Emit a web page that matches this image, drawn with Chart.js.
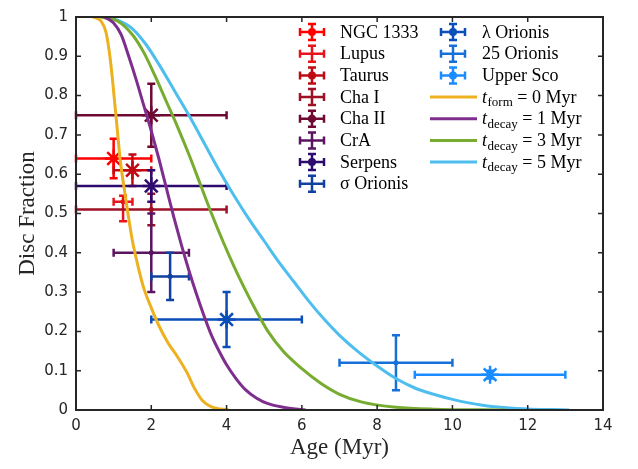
<!DOCTYPE html>
<html>
<head>
<meta charset="utf-8">
<script src="https://cdn.jsdelivr.net/npm/chart.js@4.4.1/dist/chart.umd.min.js"></script>
<style>
    html, body { margin: 0; padding: 0; background: #fff; }
    #wrap { width: 638px; height: 469px; }
</style>
</head>
<body>
<div id="wrap"><canvas id="c" width="638" height="469"></canvas></div>
<script>
// star forming regions (points with error bars)
const regions = ["NGC 1333", "Lupus", "Taurus", "Cha I", "Cha II", "CrA", "Serpens", "σ Orionis", "λ Orionis", "25 Orionis", "Upper Sco"];
const regionColors = ["#ff0000", "#e8141c", "#bf0a14", "#9e1024", "#6e0a32", "#5b1460", "#2d0a6e", "#1040a0", "#0a4eb8", "#1670d8", "#1a8cff"];
const regionStar = [true, false, true, false, true, false, true, false, true, false, true];
const age = [1, 1.25, 1.5, 2, 2, 2, 2, 2.5, 4, 8.5, 11];
const ageLo = [0, 1, 1, 0, 0, 1, 0, 2, 2, 7, 9];
const ageHi = [2, 1.5, 2, 4, 4, 3, 4, 3, 6, 10, 13];
const frac = [0.64, 0.53, 0.61, 0.51, 0.75, 0.40, 0.57, 0.34, 0.23, 0.12, 0.09];
const fracLo = [0.59, 0.48, 0.57, 0.47, 0.67, 0.30, 0.53, 0.28, 0.16, 0.05, 0.08];
const fracHi = [0.69, 0.545, 0.65, 0.55, 0.83, 0.50, 0.61, 0.40, 0.30, 0.19, 0.10];

// model curves
const formAge = [0.44, 0.66, 0.8, 0.9, 0.97, 1.04, 1.1, 1.17, 1.27, 1.38, 1.5, 1.65, 1.8, 2.0, 2.2, 2.45, 2.7, 2.95, 3.15, 3.35, 3.6, 4.05];
const formFrac = [1.0, 0.99, 0.96, 0.9, 0.84, 0.77, 0.71, 0.64, 0.57, 0.5, 0.43, 0.365, 0.31, 0.26, 0.215, 0.17, 0.135, 0.095, 0.055, 0.025, 0.008, 0];
const decay1Age = [0.75, 1.0, 1.2, 1.4, 1.6, 1.8, 2.0, 2.2, 2.4, 2.6, 2.8, 3.0, 3.2, 3.4, 3.6, 3.8, 4.0, 4.25, 4.5, 4.8, 5.1, 5.5, 6.1];
const decay1Frac = [1.0, 0.985, 0.955, 0.9, 0.84, 0.775, 0.71, 0.64, 0.565, 0.49, 0.42, 0.355, 0.295, 0.24, 0.19, 0.15, 0.115, 0.08, 0.052, 0.03, 0.016, 0.007, 0];
const decay3Age = [0.66, 1.1, 1.5, 1.8, 2.1, 2.4, 2.7, 3.0, 3.3, 3.6, 3.9, 4.2, 4.5, 4.8, 5.1, 5.5, 6.0, 6.5, 7.0, 7.6, 8.5, 9.5, 11.4];
const decay3Frac = [1.0, 0.99, 0.955, 0.91, 0.85, 0.785, 0.72, 0.65, 0.575, 0.5, 0.43, 0.365, 0.305, 0.25, 0.2, 0.15, 0.105, 0.068, 0.04, 0.02, 0.007, 0.002, 0];
const decay5Age = [0.8, 1.15, 1.5, 1.86, 2.2, 2.6, 3.0, 3.4, 3.8, 4.2, 4.6, 5.0, 5.4, 5.8, 6.2, 6.6, 7.0, 7.5, 8.0, 8.5, 9.0, 9.5, 10.0, 10.8, 11.7, 13.1];
const decay5Frac = [1.0, 0.99, 0.97, 0.93, 0.88, 0.815, 0.75, 0.68, 0.61, 0.545, 0.485, 0.43, 0.375, 0.325, 0.275, 0.23, 0.19, 0.148, 0.112, 0.08, 0.056, 0.04, 0.027, 0.012, 0.004, 0];

const curveSubs = ["form", "decay", "decay", "decay"];
const curveTimes = ["0 Myr", "1 Myr", "3 Myr", "5 Myr"];
const curveColors = ["#edb120", "#7e2f8e", "#77ac30", "#4dbeee"];
const curveAges = [formAge, decay1Age, decay3Age, decay5Age];
const curveFracs = [formFrac, decay1Frac, decay3Frac, decay5Frac];

const ageTicks = [0, 2, 4, 6, 8, 10, 12, 14];
const fracTicks = [0, 0.1, 0.2, 0.3, 0.4, 0.5, 0.6, 0.7, 0.8, 0.9, 1];

const axisColor = "#262626";
const serif = '"Liberation Serif", "Times New Roman", serif';

const datasets = [];
curveAges.forEach(function (xs, k) {
    datasets.push({
        type: "scatter",
        showLine: true,
        data: xs.map((a, i) => ({ x: a, y: curveFracs[k][i] })),
        borderColor: curveColors[k],
        borderWidth: 3,
        pointRadius: 0,
        cubicInterpolationMode: "monotone",
        order: 0
    });
});
regions.forEach(function (name, i) {
    datasets.push({
        type: "scatter",
        data: [{ x: age[i], y: frac[i] }],
        borderColor: regionColors[i],
        backgroundColor: regionColors[i],
        pointStyle: regionStar[i] ? "star" : "circle",
        pointRadius: regionStar[i] ? 9 : 2.2,
        pointBorderWidth: regionStar[i] ? 2.5 : 1,
        order: 1
    });
});

// error bars, drawn under the markers and curves
const errorBars = {
    id: "errorBars",
    beforeDatasetsDraw(chart) {
        const { ctx, scales: { x, y } } = chart;
        const cap = 4;
        ctx.save();
        ctx.lineWidth = 2.5;
        regions.forEach(function (name, i) {
            const px = x.getPixelForValue(age[i]);
            const py = y.getPixelForValue(frac[i]);
            const x0 = x.getPixelForValue(ageLo[i]), x1 = x.getPixelForValue(ageHi[i]);
            const y0 = y.getPixelForValue(fracLo[i]), y1 = y.getPixelForValue(fracHi[i]);
            ctx.strokeStyle = regionColors[i];
            ctx.beginPath();
            ctx.moveTo(x0, py); ctx.lineTo(x1, py);
            ctx.moveTo(px, y0); ctx.lineTo(px, y1);
            ctx.moveTo(x0, py - cap); ctx.lineTo(x0, py + cap);
            ctx.moveTo(x1, py - cap); ctx.lineTo(x1, py + cap);
            ctx.moveTo(px - cap, y0); ctx.lineTo(px + cap, y0);
            ctx.moveTo(px - cap, y1); ctx.lineTo(px + cap, y1);
            ctx.stroke();
        });
        ctx.restore();
    }
};

// box with inward ticks, then the legend
const frameAndLegend = {
    id: "frameAndLegend",
    afterDraw(chart) {
        const { ctx, chartArea: a, scales: { x, y } } = chart;
        ctx.save();
        ctx.strokeStyle = axisColor;
        ctx.lineWidth = 1.5;
        ctx.beginPath();
        ageTicks.forEach(function (t) {
            const px = x.getPixelForValue(t);
            ctx.moveTo(px, a.bottom); ctx.lineTo(px, a.bottom - 5);
            ctx.moveTo(px, a.top); ctx.lineTo(px, a.top + 5);
        });
        fracTicks.forEach(function (t) {
            const py = y.getPixelForValue(t);
            ctx.moveTo(a.left, py); ctx.lineTo(a.left + 5, py);
            ctx.moveTo(a.right, py); ctx.lineTo(a.right - 5, py);
        });
        ctx.stroke();
        ctx.lineWidth = 2;
        ctx.strokeRect(a.left, a.top, a.right - a.left, a.bottom - a.top);

        // legend
        const rowY = [32, 53.7, 75.4, 97, 118.7, 140.4, 162, 183.7];
        ctx.textBaseline = "middle";
        ctx.textAlign = "left";
        regions.forEach(function (name, i) {
            const col = i < 8 ? 0 : 1;
            const cy = rowY[col ? i - 8 : i];
            const cx = col ? 453 : 312;
            const hw = 12, hh = 8, c = 4;
            ctx.strokeStyle = regionColors[i];
            ctx.fillStyle = regionColors[i];
            ctx.lineWidth = 2.5;
            ctx.beginPath();
            ctx.moveTo(cx - hw, cy); ctx.lineTo(cx + hw, cy);
            ctx.moveTo(cx, cy - hh); ctx.lineTo(cx, cy + hh);
            ctx.moveTo(cx - hw, cy - c); ctx.lineTo(cx - hw, cy + c);
            ctx.moveTo(cx + hw, cy - c); ctx.lineTo(cx + hw, cy + c);
            ctx.moveTo(cx - c, cy - hh); ctx.lineTo(cx + c, cy - hh);
            ctx.moveTo(cx - c, cy + hh); ctx.lineTo(cx + c, cy + hh);
            ctx.stroke();
            ctx.beginPath();
            ctx.arc(cx, cy, regionStar[i] ? 4 : 1.5, 0, Math.PI * 2);
            ctx.fill();
            ctx.fillStyle = "#000";
            ctx.font = "18px " + serif;
            ctx.fillText(name, col ? 482 : 340, cy + 1);
        });
        curveSubs.forEach(function (sub, k) {
            const cy = rowY[3 + k];
            ctx.strokeStyle = curveColors[k];
            ctx.lineWidth = 3;
            ctx.beginPath();
            ctx.moveTo(430, cy); ctx.lineTo(477, cy);
            ctx.stroke();
            ctx.fillStyle = "#000";
            let tx = 482;
            ctx.font = "italic 18px " + serif;
            ctx.fillText("t", tx, cy + 1);
            tx += ctx.measureText("t").width + 0.5;
            ctx.font = "13px " + serif;
            ctx.fillText(sub, tx, cy + 6);
            tx += ctx.measureText(sub).width;
            ctx.font = "18px " + serif;
            ctx.fillText(" = " + curveTimes[k], tx, cy + 1);
        });
        ctx.restore();
    }
};

new Chart(document.getElementById("c"), {
    type: "scatter",
    data: { datasets: datasets },
    plugins: [errorBars, frameAndLegend],
    options: {
        responsive: false,
        animation: false,
        layout: { autoPadding: false, padding: { left: 0, right: 35, top: 5, bottom: 0 } },
        plugins: { legend: { display: false }, tooltip: { enabled: false } },
        scales: {
            x: {
                type: "linear",
                min: 0,
                max: 14,
                afterFit: function (s) { s.height = 59; },
                afterBuildTicks: function (s) { s.ticks = ageTicks.map(v => ({ value: v })); },
                grid: { display: false, drawTicks: false },
                border: { display: false },
                ticks: { color: axisColor, padding: 7, font: { family: "DejaVu Sans", size: 15 }, callback: v => String(v) },
                title: { display: true, text: "Age (Myr)", color: axisColor, padding: { top: 0, bottom: 7 }, font: { family: serif, size: 23 } }
            },
            y: {
                type: "linear",
                min: 0,
                max: 1,
                afterFit: function (s) { s.width = 76; },
                afterBuildTicks: function (s) { s.ticks = fracTicks.map(v => ({ value: v })); },
                grid: { display: false, drawTicks: false },
                border: { display: false },
                ticks: { color: axisColor, padding: 8, font: { family: "DejaVu Sans", size: 15 }, callback: v => String(Math.round(v * 10) / 10) },
                title: { display: true, text: "Disc Fraction", color: axisColor, padding: { top: 14, bottom: 0 }, font: { family: serif, size: 23 } }
            }
        }
    }
});
</script>
</body>
</html>
